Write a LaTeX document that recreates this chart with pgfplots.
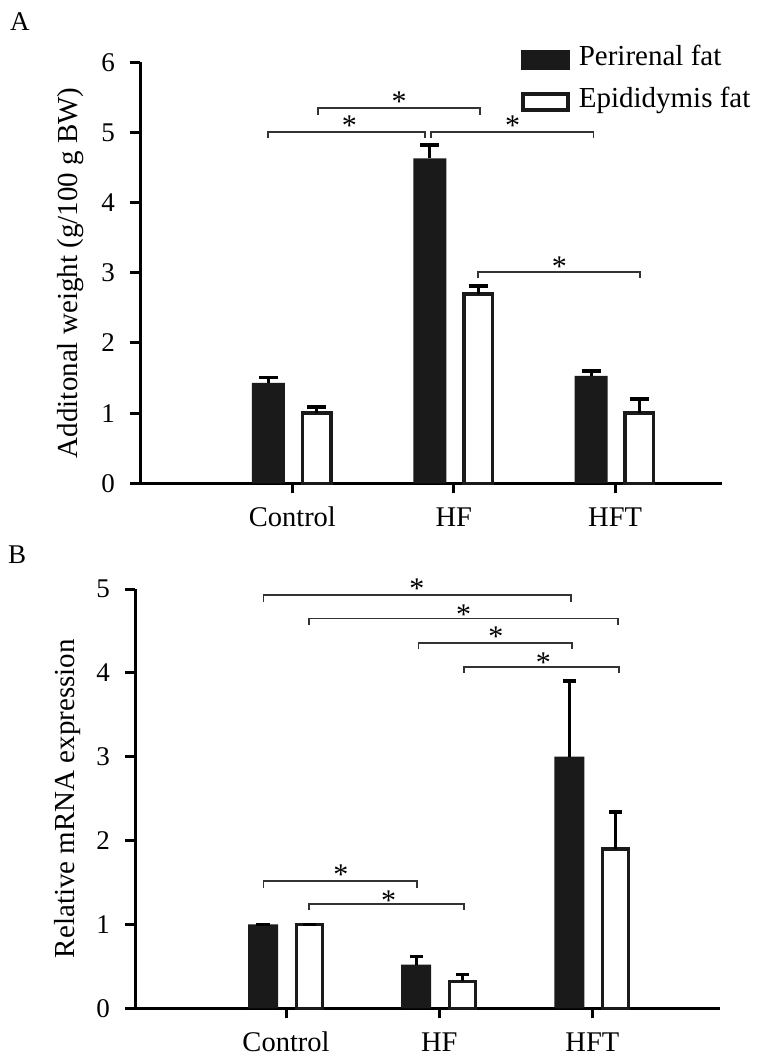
\documentclass[border=0pt]{standalone}
\usepackage{fontspec}
\setmainfont{Liberation Serif}
\usepackage{pgfplots}
\pgfplotsset{compat=1.18}
\definecolor{barblack}{HTML}{1A1A1A}
\definecolor{brkcol}{HTML}{333333}
\tikzset{
  sigline/.style={draw=brkcol, line width=1.7pt},
  star/.style={anchor=base, inner sep=0pt, yshift=-14pt, font=\fontsize{30}{34}\selectfont},
}
\pgfplotsset{
  myaxis/.style={
    scale only axis,
    anchor=south west,
    ybar,
    axis x line=bottom, axis y line=left,
    axis line style={-, line width=3pt, black},
    tick align=outside,
    major tick length=10pt,
    every tick/.append style={line width=3pt, black},
    xtick={0,1,2}, xticklabels={Control,HF,HFT},
    x tick label style={font=\fontsize{28.5}{34}\selectfont, anchor=base, inner sep=0pt, yshift=-33pt},
    y tick label style={font=\fontsize{27}{30}\selectfont, anchor=east, inner sep=0pt, xshift=-15pt},
    /pgf/number format/assume math mode=true,
    clip=false,
  },
  blackbar/.style={fill=barblack, draw=none,
    error bars/y dir=plus, error bars/y explicit, error bars/error mark=-,
    error bars/error bar style={line width=3pt, black},
    error bars/error mark options={line width=3.5pt, mark size=#1, black, rotate=90}},
  whitebar/.style={fill=white, draw=barblack, line width=3.5pt,
    error bars/y dir=plus, error bars/y explicit, error bars/error mark=-,
    error bars/error bar style={line width=3pt, black},
    error bars/error mark options={line width=3.5pt, mark size=#1, black, rotate=90}},
}
\begin{document}
\begin{tikzpicture}[x=1pt,y=1pt]
\path[use as bounding box] (0,0) rectangle (766,-1060);
\node[anchor=base west, inner sep=0pt, font=\fontsize{27}{30}\selectfont] at (10pt,-30.5pt) {A};
\node[anchor=base west, inner sep=0pt, font=\fontsize{27}{30}\selectfont] at (8pt,-563pt) {B};

% ---------------- Panel A ----------------
\begin{axis}[myaxis,
  at={(140pt,-483.3pt)},
  width=582pt, height=421pt,
  xmin=-0.944, xmax=2.662,
  ymin=0, ymax=6, ytick={0,1,2,3,4,5,6},
  ylabel={Additonal weight (g/100 g BW)},
  every axis y label/.style={at={(axis description cs:-0.108,0.5)}, rotate=90, anchor=base, font=\fontsize{29}{34}\selectfont},
  legend style={draw=none, fill=none, inner sep=0pt, at={(axis description cs:0.654,1.0406)}, anchor=north west,
    font=\fontsize{29}{34}\selectfont, row sep=17.5pt, column sep=9pt, nodes={inner sep=0pt}},
  legend cell align=left,
]
\addplot[blackbar=9.5pt, bar width=33pt, bar shift=-24pt,
  legend image code/.code={\fill[barblack] (0pt,-13.4pt) rectangle (49pt,6.6pt);}]
  coordinates {(0,1.43) +- (0,0.08) (1,4.63) +- (0,0.19) (2,1.53) +- (0,0.07)};
\addlegendentry{Perirenal fat}
\addplot[whitebar=9.5pt, bar width=28.5pt, bar shift=24.3pt,
  legend image code/.code={\draw[barblack, fill=white, line width=4pt] (2pt,-11.4pt) rectangle (47pt,4.6pt);}]
  coordinates {(0,1.0) +- (0,0.09) (1,2.70) +- (0,0.11) (2,1.0) +- (0,0.2)};
\addlegendentry{Epididymis fat}
\draw[sigline] (axis cs:0.159,5.255) |- (axis cs:1.163,5.349) -- (axis cs:1.163,5.255);
\draw[sigline] (axis cs:-0.149,4.916) |- (axis cs:0.822,5.01) -- (axis cs:0.822,4.916);
\draw[sigline] (axis cs:0.861,4.916) |- (axis cs:1.865,5.01) -- (axis cs:1.865,4.916);
\draw[sigline] (axis cs:1.152,2.92) |- (axis cs:2.153,3.014) -- (axis cs:2.153,2.92);
\node[star] at (axis cs:0.662,5.50) {*};
\node[star] at (axis cs:0.353,5.154) {*};
\node[star] at (axis cs:1.364,5.154) {*};
\node[star] at (axis cs:1.654,3.154) {*};
\end{axis}

% ---------------- Panel B ----------------
\begin{axis}[myaxis,
  at={(135pt,-1008.3pt)},
  width=585pt, height=419.3pt,
  xmin=-0.986, xmax=2.833,
  ymin=0, ymax=5, ytick={0,1,2,3,4,5},
  ylabel={Relative mRNA expression},
  every axis y label/.style={at={(axis description cs:-0.1026,0.5)}, rotate=90, anchor=base, font=\fontsize{29}{34}\selectfont},
]
\addplot[blackbar=6.7pt, bar width=30pt, bar shift=-23pt]
  coordinates {(0,1.0) +- (0,0) (1,0.52) +- (0,0.095) (2,3.0) +- (0,0.905)};
\addplot[whitebar=6.7pt, bar width=26pt, bar shift=23.3pt]
  coordinates {(0,1.0) +- (0,0) (1,0.32) +- (0,0.085) (2,1.9) +- (0,0.443)};
\draw[sigline] (axis cs:-0.148,4.846) |- (axis cs:1.858,4.929) -- (axis cs:1.858,4.846);
\draw[sigline] (axis cs:0.152,4.57) |- (axis cs:2.165,4.647) -- (axis cs:2.165,4.57);
\draw[sigline] (axis cs:0.864,4.28) |- (axis cs:1.867,4.354) -- (axis cs:1.867,4.28);
\draw[sigline] (axis cs:1.161,4.0) |- (axis cs:2.173,4.072) -- (axis cs:2.173,4.0);
\draw[sigline] (axis cs:-0.148,1.44) |- (axis cs:0.855,1.514) -- (axis cs:0.855,1.44);
\draw[sigline] (axis cs:0.152,1.168) |- (axis cs:1.162,1.24) -- (axis cs:1.162,1.168);
\node[star] at (axis cs:0.854,5.055) {*};
\node[star] at (axis cs:1.159,4.747) {*};
\node[star] at (axis cs:1.370,4.479) {*};
\node[star] at (axis cs:1.680,4.173) {*};
\node[star] at (axis cs:0.358,1.639) {*};
\node[star] at (axis cs:0.669,1.338) {*};
\end{axis}
\end{tikzpicture}
\end{document}
